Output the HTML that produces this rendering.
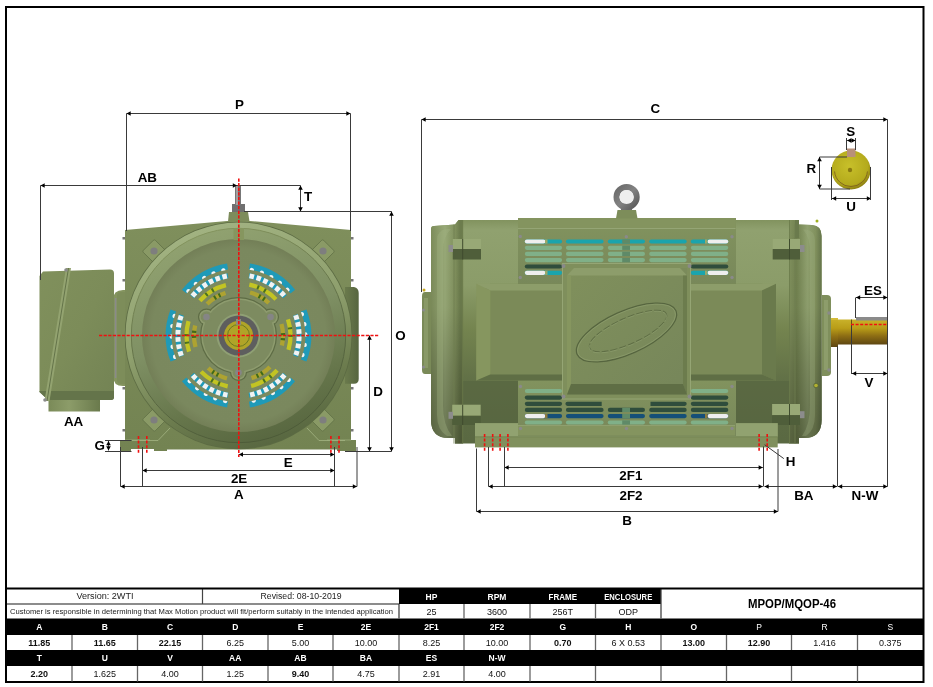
<!DOCTYPE html>
<html><head><meta charset="utf-8"><style>
html,body{margin:0;padding:0;background:#fff;width:933px;height:687px;overflow:hidden}
svg{display:block;font-family:"Liberation Sans", sans-serif}
</style></head><body>
<svg width="933" height="687" viewBox="0 0 933 687" style="will-change:transform">
<rect x="6" y="7" width="917.5" height="675" fill="none" stroke="#000" stroke-width="2"/>
<defs>
<linearGradient id="lhous" x1="0" y1="0" x2="0" y2="1">
 <stop offset="0" stop-color="#7f8f5c"/><stop offset="1" stop-color="#738352"/></linearGradient>
<linearGradient id="tbox" x1="0" y1="0" x2="1" y2="1">
 <stop offset="0" stop-color="#80905c"/><stop offset="0.5" stop-color="#7c8c59"/><stop offset="1" stop-color="#738354"/></linearGradient>
<linearGradient id="rbump" x1="0" y1="0" x2="1" y2="0">
 <stop offset="0" stop-color="#6a7a4c"/><stop offset="0.6" stop-color="#5f6e45"/><stop offset="1" stop-color="#56653f"/></linearGradient>
<linearGradient id="lineg" x1="200" y1="225" x2="275" y2="450" gradientUnits="userSpaceOnUse">
 <stop offset="0" stop-color="#86965f"/><stop offset="0.5" stop-color="#5f6e46"/><stop offset="1" stop-color="#4a5836"/></linearGradient>
<linearGradient id="hubg" x1="0" y1="0" x2="1" y2="0">
 <stop offset="0" stop-color="#7a8a58"/><stop offset="0.4" stop-color="#8c9c69"/><stop offset="1" stop-color="#6a7a4c"/></linearGradient>
<linearGradient id="rimg" x1="200" y1="225" x2="275" y2="450" gradientUnits="userSpaceOnUse">
 <stop offset="0" stop-color="#a2b382"/><stop offset="0.45" stop-color="#8e9f6d"/><stop offset="0.75" stop-color="#6c7c4e"/><stop offset="1" stop-color="#56653f"/></linearGradient>
<linearGradient id="slopeg" x1="200" y1="225" x2="275" y2="450" gradientUnits="userSpaceOnUse">
 <stop offset="0" stop-color="#92a371"/><stop offset="0.45" stop-color="#7f9064"/><stop offset="0.75" stop-color="#66764b"/><stop offset="1" stop-color="#55643e"/></linearGradient>
<radialGradient id="discg" cx="238.5" cy="335.5" r="96.5" gradientUnits="userSpaceOnUse">
 <stop offset="0" stop-color="#7c8a60"/><stop offset="0.9" stop-color="#7a885e"/><stop offset="1" stop-color="#737f57"/></radialGradient>
<linearGradient id="ringlin" x1="0" y1="0" x2="0" y2="1">
 <stop offset="0" stop-color="#9aab79"/><stop offset="0.5" stop-color="#8d9e6c"/><stop offset="1" stop-color="#76865a"/></linearGradient>
<linearGradient id="disc" x1="0" y1="0" x2="0" y2="1">
 <stop offset="0" stop-color="#7f8d62"/><stop offset="1" stop-color="#76845a"/></linearGradient>
<linearGradient id="shaftY" x1="0" y1="0" x2="0" y2="1">
 <stop offset="0" stop-color="#d2bc2a"/><stop offset="0.45" stop-color="#b8a018"/><stop offset="1" stop-color="#6e5212"/></linearGradient>
</defs>
<rect x="48.5" y="399" width="51.5" height="12.5" fill="url(#hubg)"/>
<path d="M113,300 Q113,290 123,290 L127,290 L127,386 L123,386 Q113,386 113,376 Z" fill="#84945f"/>
<rect x="114.8" y="298" width="1.6" height="80" fill="#8a8a8a"/>
<path d="M117,296 Q117,292 122,292 L127,292 L127,384 L122,384 Q117,384 117,380 Z" fill="#7d8d5a"/>
<path d="M39.5,276 L43,271.5 L110,269.5 Q114,269.5 114,273.5 L114,397 Q114,400 111,400 L48,400 L39.5,392 Z" fill="url(#tbox)"/>
<path d="M39.5,391 L114,391 L114,397 Q114,400 111,400 L48,400 L39.5,392 Z" fill="#64744a"/>
<path d="M66,268 L71,268 L49.5,401 L44.5,401 Z" fill="#93a370"/>
<line x1="68.5" y1="268" x2="47" y2="401" stroke="#5f6e45" stroke-width="0.9"/>
<circle cx="66" cy="270" r="1.8" fill="#8a8a8a"/><circle cx="45" cy="400" r="1.8" fill="#8a8a8a"/>
<path d="M125,230 L227,221 L250,221 L351,230 L351,440 L356,440 L356,451 L120,451 L120,440 L125,440 Z" fill="url(#lhous)"/>
<path d="M345,287 L354,287 Q358.7,288 358.7,293 L358.7,379 Q358.7,383.7 354,383.7 L345,383.7 Z" fill="url(#rbump)"/>
<rect x="351" y="237" width="2.5" height="2.5" fill="#777"/>
<rect x="122.5" y="237" width="2.5" height="2.5" fill="#777"/>
<rect x="351" y="279" width="2.5" height="2.5" fill="#777"/>
<rect x="122.5" y="279" width="2.5" height="2.5" fill="#777"/>
<rect x="351" y="387" width="2.5" height="2.5" fill="#777"/>
<rect x="122.5" y="387" width="2.5" height="2.5" fill="#777"/>
<rect x="351" y="429" width="2.5" height="2.5" fill="#777"/>
<rect x="122.5" y="429" width="2.5" height="2.5" fill="#777"/>
<rect x="131" y="449" width="23" height="3" fill="#fff"/>
<rect x="167" y="449.5" width="170" height="3" fill="#fff"/>
<line x1="125" y1="440" x2="150" y2="440" stroke="#9aab78" stroke-width="0.8"/>
<line x1="327" y1="440" x2="351" y2="440" stroke="#9aab78" stroke-width="0.8"/>
<path d="M228,221.5 L229,212 L248,212 L249.5,221.5 Z" fill="#7d8c5b"/>
<rect x="232" y="204" width="13" height="8" fill="#707070"/>
<rect x="235" y="186" width="6" height="19" fill="#777"/>
<rect x="236" y="186" width="2" height="19" fill="#a0a0a0"/>
<g transform="translate(154.35,251.35) rotate(225)"><rect x="-8.5" y="-8.5" width="17" height="17" rx="1.5" fill="#8a9a66" stroke="#5f6e45" stroke-width="0.7"/></g>
<circle cx="154.00" cy="251.00" r="3.6" fill="#7e7e7e"/>
<g transform="translate(322.65,251.35) rotate(315)"><rect x="-8.5" y="-8.5" width="17" height="17" rx="1.5" fill="#8a9a66" stroke="#5f6e45" stroke-width="0.7"/></g>
<circle cx="323.00" cy="251.00" r="3.6" fill="#7e7e7e"/>
<g transform="translate(154.35,419.65) rotate(135)"><rect x="-8.5" y="-8.5" width="17" height="17" rx="1.5" fill="#8a9a66" stroke="#5f6e45" stroke-width="0.7"/></g>
<circle cx="154.00" cy="420.00" r="3.6" fill="#7e7e7e"/>
<g transform="translate(322.65,419.65) rotate(45)"><rect x="-8.5" y="-8.5" width="17" height="17" rx="1.5" fill="#8a9a66" stroke="#5f6e45" stroke-width="0.7"/></g>
<circle cx="323.00" cy="420.00" r="3.6" fill="#7e7e7e"/>
<path d="M132,440.5 L158,440.5 L170,428" fill="none" stroke="#a3b483" stroke-width="0.8"/>
<path d="M345,440.5 L319,440.5 L307,428" fill="none" stroke="#a3b483" stroke-width="0.8"/>
<circle cx="238.5" cy="335.5" r="113.8" fill="#5c6b43"/>
<circle cx="238.5" cy="335.5" r="113" fill="url(#rimg)"/>
<circle cx="238.5" cy="335.5" r="107.2" fill="url(#slopeg)"/>
<circle cx="238.5" cy="335.5" r="107.2" fill="none" stroke="url(#lineg)" stroke-width="1"/>
<circle cx="238.5" cy="335.5" r="96.5" fill="url(#discg)"/>
<rect x="233.5" y="228" width="10.5" height="12" fill="#86965f"/>
<path d="M184.26,291.57 A69.8,69.8 0 0 1 227.58,266.56" fill="none" stroke="#1f9ab8" stroke-width="6"/>
<path d="M188.47,291.24 A66.8,66.8 0 0 1 228.05,269.52" fill="none" stroke="#f4f4f4" stroke-width="4.4" stroke-dasharray="0.01,10.3" stroke-linecap="round"/>
<path d="M187.36,295.54 A64.9,64.9 0 0 1 229.47,271.23" fill="none" stroke="#7b8a5f" stroke-width="3.6"/>
<path d="M192.08,296.55 A60.6,60.6 0 0 1 227.98,275.82" fill="none" stroke="#1f9ab8" stroke-width="5"/>
<path d="M192.42,296.14 A60.6,60.6 0 0 1 227.98,275.82" fill="none" stroke="#f2f2f2" stroke-width="5" stroke-dasharray="4.6,2.6"/>
<path d="M199.86,300.71 A52,52 0 0 1 225.92,285.04" fill="none" stroke="#c2c423" stroke-width="4.3"/>
<path d="M205.78,295.09 A52,52 0 0 1 217.35,288.00" fill="none" stroke="#4a7020" stroke-width="4.3" stroke-dasharray="2,5.5"/>
<path d="M207.03,304.03 A44.5,44.5 0 0 1 225.49,292.94" fill="none" stroke="#aea331" stroke-width="4.3"/>
<path d="M214.26,298.18 A44.5,44.5 0 0 1 221.11,294.54" fill="none" stroke="#3f6a1a" stroke-width="4.3" stroke-dasharray="2,3"/>
<path d="M249.42,266.56 A69.8,69.8 0 0 1 292.74,291.57" fill="none" stroke="#1f9ab8" stroke-width="6"/>
<path d="M251.82,270.04 A66.8,66.8 0 0 1 290.41,293.46" fill="none" stroke="#f4f4f4" stroke-width="4.4" stroke-dasharray="0.01,10.3" stroke-linecap="round"/>
<path d="M247.53,271.23 A64.9,64.9 0 0 1 289.64,295.54" fill="none" stroke="#7b8a5f" stroke-width="3.6"/>
<path d="M249.02,275.82 A60.6,60.6 0 0 1 284.92,296.55" fill="none" stroke="#1f9ab8" stroke-width="5"/>
<path d="M249.54,275.91 A60.6,60.6 0 0 1 284.92,296.55" fill="none" stroke="#f2f2f2" stroke-width="5" stroke-dasharray="4.6,2.6"/>
<path d="M249.31,284.64 A52,52 0 0 1 275.91,299.38" fill="none" stroke="#c2c423" stroke-width="4.3"/>
<path d="M257.14,286.95 A52,52 0 0 1 269.06,293.43" fill="none" stroke="#4a7020" stroke-width="4.3" stroke-dasharray="2,5.5"/>
<path d="M250.02,292.52 A44.5,44.5 0 0 1 268.85,302.95" fill="none" stroke="#aea331" stroke-width="4.3"/>
<path d="M258.70,295.85 A44.5,44.5 0 0 1 265.28,299.96" fill="none" stroke="#3f6a1a" stroke-width="4.3" stroke-dasharray="2,3"/>
<path d="M303.66,310.49 A69.8,69.8 0 0 1 303.66,360.51" fill="none" stroke="#1f9ab8" stroke-width="6"/>
<path d="M301.85,314.30 A66.8,66.8 0 0 1 300.86,359.44" fill="none" stroke="#f4f4f4" stroke-width="4.4" stroke-dasharray="0.01,10.3" stroke-linecap="round"/>
<path d="M298.67,311.19 A64.9,64.9 0 0 1 298.67,359.81" fill="none" stroke="#7b8a5f" stroke-width="3.6"/>
<path d="M295.45,314.77 A60.6,60.6 0 0 1 295.45,356.23" fill="none" stroke="#1f9ab8" stroke-width="5"/>
<path d="M295.62,315.27 A60.6,60.6 0 0 1 295.45,356.23" fill="none" stroke="#f2f2f2" stroke-width="5" stroke-dasharray="4.6,2.6"/>
<path d="M287.95,319.43 A52,52 0 0 1 288.49,349.83" fill="none" stroke="#c2c423" stroke-width="4.3"/>
<path d="M289.86,327.37 A52,52 0 0 1 290.22,340.94" fill="none" stroke="#4a7020" stroke-width="4.3" stroke-dasharray="2,5.5"/>
<path d="M281.48,323.98 A44.5,44.5 0 0 1 281.86,345.51" fill="none" stroke="#aea331" stroke-width="4.3"/>
<path d="M282.94,333.17 A44.5,44.5 0 0 1 282.67,340.92" fill="none" stroke="#3f6a1a" stroke-width="4.3" stroke-dasharray="2,3"/>
<path d="M292.74,379.43 A69.8,69.8 0 0 1 249.42,404.44" fill="none" stroke="#1f9ab8" stroke-width="6"/>
<path d="M288.53,379.76 A66.8,66.8 0 0 1 248.95,401.48" fill="none" stroke="#f4f4f4" stroke-width="4.4" stroke-dasharray="0.01,10.3" stroke-linecap="round"/>
<path d="M289.64,375.46 A64.9,64.9 0 0 1 247.53,399.77" fill="none" stroke="#7b8a5f" stroke-width="3.6"/>
<path d="M284.92,374.45 A60.6,60.6 0 0 1 249.02,395.18" fill="none" stroke="#1f9ab8" stroke-width="5"/>
<path d="M284.58,374.86 A60.6,60.6 0 0 1 249.02,395.18" fill="none" stroke="#f2f2f2" stroke-width="5" stroke-dasharray="4.6,2.6"/>
<path d="M277.14,370.29 A52,52 0 0 1 251.08,385.96" fill="none" stroke="#c2c423" stroke-width="4.3"/>
<path d="M271.22,375.91 A52,52 0 0 1 259.65,383.00" fill="none" stroke="#4a7020" stroke-width="4.3" stroke-dasharray="2,5.5"/>
<path d="M269.97,366.97 A44.5,44.5 0 0 1 251.51,378.06" fill="none" stroke="#aea331" stroke-width="4.3"/>
<path d="M262.74,372.82 A44.5,44.5 0 0 1 255.89,376.46" fill="none" stroke="#3f6a1a" stroke-width="4.3" stroke-dasharray="2,3"/>
<path d="M227.58,404.44 A69.8,69.8 0 0 1 184.26,379.43" fill="none" stroke="#1f9ab8" stroke-width="6"/>
<path d="M225.18,400.96 A66.8,66.8 0 0 1 186.59,377.54" fill="none" stroke="#f4f4f4" stroke-width="4.4" stroke-dasharray="0.01,10.3" stroke-linecap="round"/>
<path d="M229.47,399.77 A64.9,64.9 0 0 1 187.36,375.46" fill="none" stroke="#7b8a5f" stroke-width="3.6"/>
<path d="M227.98,395.18 A60.6,60.6 0 0 1 192.08,374.45" fill="none" stroke="#1f9ab8" stroke-width="5"/>
<path d="M227.46,395.09 A60.6,60.6 0 0 1 192.08,374.45" fill="none" stroke="#f2f2f2" stroke-width="5" stroke-dasharray="4.6,2.6"/>
<path d="M227.69,386.36 A52,52 0 0 1 201.09,371.62" fill="none" stroke="#c2c423" stroke-width="4.3"/>
<path d="M219.86,384.05 A52,52 0 0 1 207.94,377.57" fill="none" stroke="#4a7020" stroke-width="4.3" stroke-dasharray="2,5.5"/>
<path d="M226.98,378.48 A44.5,44.5 0 0 1 208.15,368.05" fill="none" stroke="#aea331" stroke-width="4.3"/>
<path d="M218.30,375.15 A44.5,44.5 0 0 1 211.72,371.04" fill="none" stroke="#3f6a1a" stroke-width="4.3" stroke-dasharray="2,3"/>
<path d="M173.34,360.51 A69.8,69.8 0 0 1 173.34,310.49" fill="none" stroke="#1f9ab8" stroke-width="6"/>
<path d="M175.15,356.70 A66.8,66.8 0 0 1 176.14,311.56" fill="none" stroke="#f4f4f4" stroke-width="4.4" stroke-dasharray="0.01,10.3" stroke-linecap="round"/>
<path d="M178.33,359.81 A64.9,64.9 0 0 1 178.33,311.19" fill="none" stroke="#7b8a5f" stroke-width="3.6"/>
<path d="M181.55,356.23 A60.6,60.6 0 0 1 181.55,314.77" fill="none" stroke="#1f9ab8" stroke-width="5"/>
<path d="M181.38,355.73 A60.6,60.6 0 0 1 181.55,314.77" fill="none" stroke="#f2f2f2" stroke-width="5" stroke-dasharray="4.6,2.6"/>
<path d="M189.05,351.57 A52,52 0 0 1 188.51,321.17" fill="none" stroke="#c2c423" stroke-width="4.3"/>
<path d="M187.14,343.63 A52,52 0 0 1 186.78,330.06" fill="none" stroke="#4a7020" stroke-width="4.3" stroke-dasharray="2,5.5"/>
<path d="M195.52,347.02 A44.5,44.5 0 0 1 195.14,325.49" fill="none" stroke="#aea331" stroke-width="4.3"/>
<path d="M194.06,337.83 A44.5,44.5 0 0 1 194.33,330.08" fill="none" stroke="#3f6a1a" stroke-width="4.3" stroke-dasharray="2,3"/>
<circle cx="238.5" cy="335.5" r="38.5" fill="#5e6c45"/>
<circle cx="206.46" cy="317.00" r="8.5" fill="#5e6c45"/>
<circle cx="270.54" cy="317.00" r="8.5" fill="#5e6c45"/>
<circle cx="238.50" cy="372.50" r="8.5" fill="#5e6c45"/>
<circle cx="238.5" cy="335.5" r="37.3" fill="#8d9b6e"/>
<circle cx="206.46" cy="317.00" r="7.3" fill="#8d9b6e"/>
<circle cx="270.54" cy="317.00" r="7.3" fill="#8d9b6e"/>
<circle cx="238.50" cy="372.50" r="7.3" fill="#8d9b6e"/>
<circle cx="238.5" cy="335.5" r="35.8" fill="#7d8b60"/>
<circle cx="206.46" cy="317.00" r="5.8" fill="#7d8b60"/>
<circle cx="270.54" cy="317.00" r="5.8" fill="#7d8b60"/>
<circle cx="238.50" cy="372.50" r="5.8" fill="#7d8b60"/>
<circle cx="206.46" cy="317.00" r="3.3" fill="#858585"/>
<circle cx="270.54" cy="317.00" r="3.3" fill="#858585"/>
<circle cx="238.50" cy="372.50" r="3.3" fill="#858585"/>
<circle cx="238.5" cy="335.5" r="22" fill="#8f9f74"/>
<circle cx="238.5" cy="335.5" r="20" fill="#5e5e5e"/>
<circle cx="238.5" cy="335.5" r="14.5" fill="#b0a428"/>
<circle cx="238.5" cy="335.5" r="11" fill="none" stroke="#6c7a22" stroke-width="1"/>
<rect x="236" y="319" width="5" height="6" fill="#8a8a7a"/>
<defs>
<linearGradient id="rbody" x1="0" y1="219" x2="0" y2="439" gradientUnits="userSpaceOnUse">
 <stop offset="0" stop-color="#80915d"/><stop offset="0.05" stop-color="#90a16f"/><stop offset="0.3" stop-color="#8b9c69"/><stop offset="0.5" stop-color="#74844f"/><stop offset="0.75" stop-color="#606f46"/><stop offset="1" stop-color="#5a6942"/></linearGradient>
<linearGradient id="rend" x1="430" y1="0" x2="460" y2="0" gradientUnits="userSpaceOnUse">
 <stop offset="0" stop-color="#7b8b59"/><stop offset="0.5" stop-color="#98a977"/><stop offset="0.85" stop-color="#7f8f5c"/><stop offset="1" stop-color="#6c7c4d"/></linearGradient>
<linearGradient id="rend2" x1="789.5" y1="0" x2="822" y2="0" gradientUnits="userSpaceOnUse">
 <stop offset="0" stop-color="#80905d"/><stop offset="0.22" stop-color="#728250"/><stop offset="0.55" stop-color="#90a16f"/><stop offset="0.8" stop-color="#82925e"/><stop offset="1" stop-color="#64744a"/></linearGradient>
<linearGradient id="endv" x1="0" y1="219" x2="0" y2="439" gradientUnits="userSpaceOnUse">
 <stop offset="0" stop-color="#000" stop-opacity="0"/><stop offset="0.4" stop-color="#000" stop-opacity="0.03"/><stop offset="0.7" stop-color="#000" stop-opacity="0.18"/><stop offset="1" stop-color="#000" stop-opacity="0.3"/></linearGradient>
<linearGradient id="panel" x1="0" y1="0" x2="0" y2="1">
 <stop offset="0" stop-color="#82935e"/><stop offset="1" stop-color="#78885a"/></linearGradient>
<linearGradient id="sidep" x1="0" y1="0" x2="0" y2="1">
 <stop offset="0" stop-color="#7f8f5b"/><stop offset="1" stop-color="#748455"/></linearGradient>
<linearGradient id="tbface" x1="0" y1="0" x2="1" y2="1">
 <stop offset="0" stop-color="#80905c"/><stop offset="1" stop-color="#76865a"/></linearGradient>
<linearGradient id="shaft" x1="0" y1="0" x2="0" y2="1">
 <stop offset="0" stop-color="#c9b22a"/><stop offset="0.35" stop-color="#b99d18"/><stop offset="0.65" stop-color="#8e6e14"/><stop offset="1" stop-color="#5e4612"/></linearGradient>
<linearGradient id="ringg" x1="0" y1="0" x2="1" y2="1">
 <stop offset="0" stop-color="#6a6a6a"/><stop offset="0.5" stop-color="#828282"/><stop offset="1" stop-color="#5a5a5a"/></linearGradient>
<radialGradient id="shend" cx="0.45" cy="0.4" r="0.6">
 <stop offset="0" stop-color="#c8c02a"/><stop offset="0.8" stop-color="#b4aa1c"/><stop offset="1" stop-color="#8e8012"/></radialGradient>
</defs>
<path d="M431,292 L425,292 Q422,292 422,296 L422,370 Q422,374 425,374 L431,374 Z" fill="#7a8a58"/>
<rect x="424" y="298" width="4" height="70" fill="#90a06e" opacity="0.7"/>
<circle cx="423.5" cy="310" r="1.6" fill="#8a8a8a"/><circle cx="423.5" cy="367" r="1.6" fill="#8a8a8a"/>
<path d="M822,295 L827,295 Q831,295 831,299 L831,372 Q831,376 827,376 L822,376 Z" fill="#7f8f5c"/>
<rect x="824" y="300" width="4" height="70" fill="#93a372" opacity="0.7"/>
<circle cx="829" cy="313" r="1.8" fill="#8a8a8a"/><circle cx="829" cy="370" r="1.8" fill="#8a8a8a"/>
<path d="M434,226 L455,224.5 L458.5,220 L794.5,220 L798.7,224.5 L812,225 Q821.6,225.5 821.6,236 L821.6,420 Q821.6,438 804,438 L799,438 L799,443.6 L455,443.6 L455,438 L449,438 Q431,438 431,420 L431,229 Q431,226 434,226 Z" fill="url(#rbody)"/>
<path d="M434,226 L455,224.5 L458.5,220 L462.7,220 L462.7,443.6 L455,443.6 L455,438 L449,438 Q431,438 431,420 L431,229 Q431,226 434,226 Z" fill="url(#rend)"/>
<path d="M789.5,220 L794.5,220 L798.7,224.5 L812,225 Q821.6,225.5 821.6,236 L821.6,420 Q821.6,438 804,438 L799,438 L799,443.6 L789.5,443.6 Z" fill="url(#rend2)"/>
<path d="M434,226 L455,224.5 L458.5,220 L462.7,220 L462.7,443.6 L455,443.6 L455,438 L449,438 Q431,438 431,420 L431,229 Q431,226 434,226 Z M789.5,220 L794.5,220 L798.7,224.5 L812,225 Q821.6,225.5 821.6,236 L821.6,420 Q821.6,438 804,438 L799,438 L799,443.6 L789.5,443.6 Z" fill="url(#endv)"/>
<path d="M437,240 Q437,230 447,229 L451,229 Q443,236 443,252 L443,405 Q443,425 452,436 L447,436 Q437,430 437,415 Z" fill="#a3b483" opacity="0.35"/>
<path d="M815,240 Q815,231 806,229.5 L803,229.5 Q810,237 810,252 L810,405 Q810,425 802,436 L806,436 Q815,430 815,415 Z" fill="#a3b483" opacity="0.3"/>
<rect x="462.7" y="381" width="326.8" height="44" fill="#56653f" opacity="0.55"/>
<line x1="454" y1="224.5" x2="454" y2="443.6" stroke="#6f7f50" stroke-width="0.8"/>
<line x1="462.7" y1="220" x2="462.7" y2="443.6" stroke="#6a7a4a" stroke-width="0.8"/>
<line x1="789.5" y1="220" x2="789.5" y2="443.6" stroke="#6a7a4a" stroke-width="0.8"/>
<rect x="795" y="220" width="4" height="18" fill="#6a7a4c"/>
<line x1="795" y1="224" x2="795" y2="443.6" stroke="#6f7f50" stroke-width="0.8"/>
<rect x="452.8" y="239" width="28.20" height="10.00" fill="#98a976"/>
<rect x="452.8" y="249" width="28.20" height="10.50" fill="#4f5e3a"/>
<line x1="462.7" y1="239" x2="462.7" y2="259.5" stroke="#3f4c2e" stroke-width="1"/>
<rect x="448.5" y="245" width="4.5" height="7" fill="#8c8c8c"/>
<rect x="452.2" y="404.7" width="28.50" height="11.10" fill="#98a976"/>
<rect x="452.2" y="415.8" width="28.50" height="9.20" fill="#4f5e3a"/>
<line x1="462.7" y1="404.7" x2="462.7" y2="425" stroke="#3f4c2e" stroke-width="1"/>
<rect x="448.5" y="411.8" width="4.5" height="7" fill="#8c8c8c"/>
<rect x="772.7" y="239" width="27.30" height="10.00" fill="#98a976"/>
<rect x="772.7" y="249" width="27.30" height="10.50" fill="#4f5e3a"/>
<line x1="789.5" y1="239" x2="789.5" y2="259.5" stroke="#3f4c2e" stroke-width="1"/>
<rect x="800" y="245" width="4.5" height="7" fill="#8c8c8c"/>
<rect x="772.1" y="404" width="27.90" height="11.20" fill="#98a976"/>
<rect x="772.1" y="415.2" width="27.90" height="9.80" fill="#4f5e3a"/>
<line x1="789.5" y1="404" x2="789.5" y2="425" stroke="#3f4c2e" stroke-width="1"/>
<rect x="800" y="411.2" width="4.5" height="7" fill="#8c8c8c"/>
<rect x="475" y="423.2" width="302.7" height="24.2" fill="#80905d"/>
<rect x="475" y="423.2" width="302.7" height="13.6" fill="#91a270"/>
<line x1="475" y1="436.8" x2="777.7" y2="436.8" stroke="#70804f" stroke-width="0.8"/>
<rect x="518" y="218" width="218" height="66" fill="url(#panel)"/>
<rect x="518" y="218" width="217.5" height="10.5" fill="#84945f"/>
<line x1="518" y1="228.5" x2="735.5" y2="228.5" stroke="#95a575" stroke-width="1"/>
<line x1="518" y1="284" x2="736" y2="284" stroke="#6a7a4a" stroke-width="1"/>
<rect x="524.80" y="239.40" width="37.30" height="4.2" rx="2.1" fill="#1aa4ad"/>
<rect x="524.80" y="245.70" width="37.30" height="4.2" rx="2.1" fill="#80b088"/>
<rect x="524.80" y="251.80" width="37.30" height="4.2" rx="2.1" fill="#80b088"/>
<rect x="524.80" y="258.00" width="37.30" height="4.2" rx="2.1" fill="#80b088"/>
<rect x="524.80" y="264.40" width="37.30" height="4.2" rx="2.1" fill="#2f4d3c"/>
<rect x="524.80" y="270.70" width="37.30" height="4.2" rx="2.1" fill="#1aa4ad"/>
<rect x="565.90" y="239.40" width="37.70" height="4.2" rx="2.1" fill="#1aa4ad"/>
<rect x="565.90" y="245.70" width="37.70" height="4.2" rx="2.1" fill="#80b088"/>
<rect x="565.90" y="251.80" width="37.70" height="4.2" rx="2.1" fill="#80b088"/>
<rect x="565.90" y="258.00" width="37.70" height="4.2" rx="2.1" fill="#80b088"/>
<rect x="607.80" y="239.40" width="37.20" height="4.2" rx="2.1" fill="#1aa4ad"/>
<rect x="607.80" y="245.70" width="37.20" height="4.2" rx="2.1" fill="#80b088"/>
<rect x="607.80" y="251.80" width="37.20" height="4.2" rx="2.1" fill="#80b088"/>
<rect x="607.80" y="258.00" width="37.20" height="4.2" rx="2.1" fill="#80b088"/>
<rect x="649.20" y="239.40" width="37.50" height="4.2" rx="2.1" fill="#1aa4ad"/>
<rect x="649.20" y="245.70" width="37.50" height="4.2" rx="2.1" fill="#80b088"/>
<rect x="649.20" y="251.80" width="37.50" height="4.2" rx="2.1" fill="#80b088"/>
<rect x="649.20" y="258.00" width="37.50" height="4.2" rx="2.1" fill="#80b088"/>
<rect x="690.80" y="239.40" width="37.50" height="4.2" rx="2.1" fill="#1aa4ad"/>
<rect x="690.80" y="245.70" width="37.50" height="4.2" rx="2.1" fill="#80b088"/>
<rect x="690.80" y="251.80" width="37.50" height="4.2" rx="2.1" fill="#80b088"/>
<rect x="690.80" y="258.00" width="37.50" height="4.2" rx="2.1" fill="#80b088"/>
<rect x="690.80" y="264.40" width="37.50" height="4.2" rx="2.1" fill="#2f4d3c"/>
<rect x="690.80" y="270.70" width="37.50" height="4.2" rx="2.1" fill="#1aa4ad"/>
<rect x="524.80" y="239.40" width="20.70" height="4.2" rx="2.1" fill="#eeeeee"/>
<rect x="545" y="239.4" width="2.5" height="4.2" fill="#9aa86a"/>
<rect x="707.50" y="239.40" width="20.80" height="4.2" rx="2.1" fill="#eeeeee"/>
<rect x="705" y="239.4" width="2.5" height="4.2" fill="#9aa86a"/>
<rect x="524.80" y="270.70" width="20.70" height="4.2" rx="2.1" fill="#eeeeee"/>
<rect x="545" y="270.7" width="2.5" height="4.2" fill="#9aa86a"/>
<rect x="707.50" y="270.70" width="20.80" height="4.2" rx="2.1" fill="#eeeeee"/>
<rect x="705" y="270.7" width="2.5" height="4.2" fill="#9aa86a"/>
<rect x="622.2" y="239.4" width="7.8" height="4.2" fill="#5f8a68"/>
<rect x="622.2" y="245.70000000000002" width="7.8" height="4.2" fill="#5f8a68"/>
<rect x="622.2" y="251.8" width="7.8" height="4.2" fill="#5f8a68"/>
<rect x="622.2" y="258.0" width="7.8" height="4.2" fill="#5f8a68"/>
<rect x="518" y="378" width="218" height="58" fill="url(#panel)"/>
<line x1="518" y1="378.5" x2="736" y2="378.5" stroke="#93a370" stroke-width="1"/>
<rect x="518" y="425.5" width="217" height="10" fill="#84945f"/>
<line x1="518" y1="425.5" x2="735" y2="425.5" stroke="#93a372" stroke-width="0.8"/>
<rect x="524.80" y="388.90" width="37.30" height="4.2" rx="2.1" fill="#80b088"/>
<rect x="524.80" y="395.50" width="37.30" height="4.2" rx="2.1" fill="#2f4d3c"/>
<rect x="524.80" y="401.70" width="37.30" height="4.2" rx="2.1" fill="#2f4d3c"/>
<rect x="524.80" y="407.80" width="37.30" height="4.2" rx="2.1" fill="#2f4d3c"/>
<rect x="524.80" y="414.00" width="37.30" height="4.2" rx="2.1" fill="#154f78"/>
<rect x="524.80" y="420.40" width="37.30" height="4.2" rx="2.1" fill="#80b088"/>
<rect x="565.90" y="407.80" width="37.70" height="4.2" rx="2.1" fill="#2f4d3c"/>
<rect x="565.90" y="414.00" width="37.70" height="4.2" rx="2.1" fill="#154f78"/>
<rect x="565.90" y="420.40" width="37.70" height="4.2" rx="2.1" fill="#80b088"/>
<rect x="607.80" y="407.80" width="37.20" height="4.2" rx="2.1" fill="#2f4d3c"/>
<rect x="607.80" y="414.00" width="37.20" height="4.2" rx="2.1" fill="#154f78"/>
<rect x="607.80" y="420.40" width="37.20" height="4.2" rx="2.1" fill="#80b088"/>
<rect x="649.20" y="407.80" width="37.50" height="4.2" rx="2.1" fill="#2f4d3c"/>
<rect x="649.20" y="414.00" width="37.50" height="4.2" rx="2.1" fill="#154f78"/>
<rect x="649.20" y="420.40" width="37.50" height="4.2" rx="2.1" fill="#80b088"/>
<rect x="690.80" y="388.90" width="37.50" height="4.2" rx="2.1" fill="#80b088"/>
<rect x="690.80" y="395.50" width="37.50" height="4.2" rx="2.1" fill="#2f4d3c"/>
<rect x="690.80" y="401.70" width="37.50" height="4.2" rx="2.1" fill="#2f4d3c"/>
<rect x="690.80" y="407.80" width="37.50" height="4.2" rx="2.1" fill="#2f4d3c"/>
<rect x="690.80" y="414.00" width="37.50" height="4.2" rx="2.1" fill="#154f78"/>
<rect x="690.80" y="420.40" width="37.50" height="4.2" rx="2.1" fill="#80b088"/>
<path d="M567.5,401.7 L601.7,401.7 L601.7,405.90000000000003 L567.5,405.90000000000003 A2.1,2.1 0 0 1 567.5,401.7 Z" fill="#2f4d3c"/>
<path d="M650.5,401.7 L684.6,401.7 A2.1,2.1 0 0 1 684.6,405.90000000000003 L650.5,405.90000000000003 Z" fill="#2f4d3c"/>
<rect x="524.80" y="414.00" width="20.70" height="4.2" rx="2.1" fill="#eeeeee"/>
<rect x="707.50" y="414.00" width="20.80" height="4.2" rx="2.1" fill="#eeeeee"/>
<rect x="545" y="414.0" width="2.5" height="4.2" fill="#8a7a40"/><rect x="705" y="414.0" width="2.5" height="4.2" fill="#8a7a40"/>
<rect x="622.2" y="407.79999999999995" width="7.8" height="4.2" fill="#5f8a68"/>
<rect x="622.2" y="414.0" width="7.8" height="4.2" fill="#5f8a68"/>
<rect x="622.2" y="420.4" width="7.8" height="4.2" fill="#5f8a68"/>
<circle cx="520.3" cy="236.5" r="1.7" fill="#8a8a8a"/>
<circle cx="626.3" cy="236.7" r="1.7" fill="#8a8a8a"/>
<circle cx="732" cy="236.7" r="1.7" fill="#8a8a8a"/>
<circle cx="520.3" cy="277.5" r="1.7" fill="#8a8a8a"/>
<circle cx="732" cy="277.5" r="1.7" fill="#8a8a8a"/>
<circle cx="520.5" cy="386.5" r="1.7" fill="#8a8a8a"/>
<circle cx="732" cy="386.5" r="1.7" fill="#8a8a8a"/>
<circle cx="520.5" cy="428.5" r="1.7" fill="#8a8a8a"/>
<circle cx="626.5" cy="428.5" r="1.7" fill="#8a8a8a"/>
<circle cx="732" cy="428.5" r="1.7" fill="#8a8a8a"/>
<path d="M476.3,297 L490.3,283.7 L762,283.7 L776,297 L776,380.6 L476.3,380.6 Z" fill="#7b8a58"/>
<path d="M476.3,283.7 L776,283.7 L762,290.4 L490.3,290.4 Z" fill="#8d9d6a"/>
<path d="M476.3,283.7 L490.3,290.4 L490.3,374.5 L476.3,380.6 Z" fill="#86965f"/>
<path d="M776,283.7 L762,290.4 L762,374.5 L776,380.6 Z" fill="#6a7a4c"/>
<path d="M476.3,380.6 L490.3,374.5 L762,374.5 L776,380.6 Z" fill="#5f6e45"/>
<rect x="562.5" y="263.5" width="128" height="135.5" fill="#7f8f5c" stroke="#95a574" stroke-width="1"/>
<rect x="567" y="268" width="120" height="126.5" fill="url(#tbface)"/>
<path d="M567,275.5 L574,268 L680,268 L687,275.5 Z" fill="#8d9d6b"/>
<path d="M567,275.5 L571,275.5 L571,384 L567,394.5 Z" fill="#86965f"/>
<path d="M687,275.5 L683,275.5 L683,384 L687,394.5 Z" fill="#6c7c4d"/>
<path d="M567,394.5 L571,384 L683,384 L687,394.5 Z" fill="#5f6e45"/>
<circle cx="563.5" cy="266" r="2" fill="#8a8a8a"/>
<circle cx="689.5" cy="266" r="2" fill="#8a8a8a"/>
<circle cx="563.5" cy="396.5" r="2" fill="#8a8a8a"/>
<circle cx="689.5" cy="396.5" r="2" fill="#8a8a8a"/>
<ellipse cx="626.5" cy="332.5" rx="54" ry="21.5" transform="rotate(-24 626.5 332.5)" fill="none" stroke="#56653f" stroke-width="1.2"/>
<ellipse cx="626.5" cy="332.5" rx="52.8" ry="20.3" transform="rotate(-24 626.5 332.5)" fill="none" stroke="#90a070" stroke-width="0.7" opacity="0.8"/>
<ellipse cx="628" cy="331" rx="42" ry="13" transform="rotate(-24 628 331)" fill="none" stroke="#5f6e45" stroke-width="1.1" stroke-dasharray="7,2"/>
<ellipse cx="628" cy="332" rx="42" ry="13" transform="rotate(-24 628 332)" fill="none" stroke="#93a373" stroke-width="0.7" stroke-dasharray="7,2" opacity="0.7"/>
<rect x="831" y="318" width="7" height="29" fill="url(#shaft)"/>
<rect x="831" y="318" width="7" height="2" fill="#d8c040" opacity="0.7"/>
<rect x="838" y="319.5" width="49.5" height="25" fill="url(#shaft)"/>
<rect x="856" y="317" width="31.5" height="3.5" fill="#8a8a8a"/>
<line x1="851.5" y1="319.5" x2="851.5" y2="344.5" stroke="#4a3a10" stroke-width="0.8"/>
<path d="M616,218.5 L617.5,210 L636,210 L637.5,218.5 Z" fill="#7d8d5a"/>
<path d="M620,203 L633,203 L632,210 L621,210 Z" fill="#6e6e6e"/>
<circle cx="626.6" cy="197" r="10.1" fill="none" stroke="url(#ringg)" stroke-width="6"/>
<circle cx="626.6" cy="197" r="7.1" fill="#eeeeee"/>
<circle cx="424" cy="290" r="1.5" fill="#c8a820"/>
<circle cx="816" cy="385.5" r="2.3" fill="#b0b030" stroke="#4f5e3a" stroke-width="0.8"/>
<circle cx="817" cy="221" r="1.5" fill="#a0b020"/>
<circle cx="851" cy="170" r="19.5" fill="url(#shend)"/>
<path d="M867.44,171.44 A16.5,16.5 0 0 1 834.56,171.44" fill="none" stroke="#7a5a20" stroke-width="0.8"/>
<circle cx="850" cy="170" r="2.2" fill="#8a7a10"/>
<rect x="847" y="148.5" width="8.5" height="8.5" fill="#b8907a"/>
<rect x="399" y="588" width="262" height="16" fill="#000"/>
<rect x="6" y="618.5" width="917" height="16.5" fill="#000"/>
<rect x="6" y="650" width="917" height="16" fill="#000"/>
<line x1="7" y1="604" x2="399" y2="604" stroke="#666" stroke-width="1.5"/>
<line x1="202.5" y1="589" x2="202.5" y2="604" stroke="#444" stroke-width="1.2"/>
<line x1="464" y1="604" x2="464" y2="618.5" stroke="#666" stroke-width="1.3"/>
<line x1="530" y1="604" x2="530" y2="618.5" stroke="#666" stroke-width="1.3"/>
<line x1="595.5" y1="604" x2="595.5" y2="618.5" stroke="#666" stroke-width="1.3"/>
<line x1="399" y1="604" x2="399" y2="618.5" stroke="#444" stroke-width="1.3"/>
<line x1="661" y1="589" x2="661" y2="618.5" stroke="#444" stroke-width="1.3"/>
<line x1="72" y1="635" x2="72" y2="650" stroke="#666" stroke-width="1.3"/>
<line x1="72" y1="666" x2="72" y2="681.5" stroke="#666" stroke-width="1.3"/>
<line x1="137.5" y1="635" x2="137.5" y2="650" stroke="#666" stroke-width="1.3"/>
<line x1="137.5" y1="666" x2="137.5" y2="681.5" stroke="#666" stroke-width="1.3"/>
<line x1="202.5" y1="635" x2="202.5" y2="650" stroke="#666" stroke-width="1.3"/>
<line x1="202.5" y1="666" x2="202.5" y2="681.5" stroke="#666" stroke-width="1.3"/>
<line x1="268" y1="635" x2="268" y2="650" stroke="#666" stroke-width="1.3"/>
<line x1="268" y1="666" x2="268" y2="681.5" stroke="#666" stroke-width="1.3"/>
<line x1="333" y1="635" x2="333" y2="650" stroke="#666" stroke-width="1.3"/>
<line x1="333" y1="666" x2="333" y2="681.5" stroke="#666" stroke-width="1.3"/>
<line x1="399" y1="635" x2="399" y2="650" stroke="#666" stroke-width="1.3"/>
<line x1="399" y1="666" x2="399" y2="681.5" stroke="#666" stroke-width="1.3"/>
<line x1="464" y1="635" x2="464" y2="650" stroke="#666" stroke-width="1.3"/>
<line x1="464" y1="666" x2="464" y2="681.5" stroke="#666" stroke-width="1.3"/>
<line x1="530" y1="635" x2="530" y2="650" stroke="#666" stroke-width="1.3"/>
<line x1="530" y1="666" x2="530" y2="681.5" stroke="#666" stroke-width="1.3"/>
<line x1="595.5" y1="635" x2="595.5" y2="650" stroke="#666" stroke-width="1.3"/>
<line x1="595.5" y1="666" x2="595.5" y2="681.5" stroke="#666" stroke-width="1.3"/>
<line x1="661" y1="635" x2="661" y2="650" stroke="#666" stroke-width="1.3"/>
<line x1="661" y1="666" x2="661" y2="681.5" stroke="#666" stroke-width="1.3"/>
<line x1="726.5" y1="635" x2="726.5" y2="650" stroke="#666" stroke-width="1.3"/>
<line x1="726.5" y1="666" x2="726.5" y2="681.5" stroke="#666" stroke-width="1.3"/>
<line x1="791.5" y1="635" x2="791.5" y2="650" stroke="#666" stroke-width="1.3"/>
<line x1="791.5" y1="666" x2="791.5" y2="681.5" stroke="#666" stroke-width="1.3"/>
<line x1="857.5" y1="635" x2="857.5" y2="650" stroke="#666" stroke-width="1.3"/>
<line x1="857.5" y1="666" x2="857.5" y2="681.5" stroke="#666" stroke-width="1.3"/>
<line x1="6" y1="588.5" x2="923" y2="588.5" stroke="#000" stroke-width="2"/>
<text x="105" y="598.9" font-size="9.6" fill="#222" text-anchor="middle" textLength="57" lengthAdjust="spacingAndGlyphs">Version: 2WTI</text>
<text x="301" y="598.9" font-size="9.6" fill="#222" text-anchor="middle" textLength="81" lengthAdjust="spacingAndGlyphs">Revised: 08-10-2019</text>
<text x="201.5" y="614" font-size="8" fill="#222" text-anchor="middle" textLength="383" lengthAdjust="spacingAndGlyphs">Customer is responsible in determining that Max Motion product will fit/perform suitably in the intended application</text>
<text x="431.5" y="599.5" font-size="8.5" font-weight="bold" fill="#fff" text-anchor="middle">HP</text>
<text x="497.0" y="599.5" font-size="8.5" font-weight="bold" fill="#fff" text-anchor="middle">RPM</text>
<text x="562.75" y="599.5" font-size="8.5" font-weight="bold" fill="#fff" text-anchor="middle" textLength="28.5" lengthAdjust="spacingAndGlyphs">FRAME</text>
<text x="628.25" y="599.5" font-size="8.5" font-weight="bold" fill="#fff" text-anchor="middle" textLength="48" lengthAdjust="spacingAndGlyphs">ENCLOSURE</text>
<text x="431.5" y="614.5" font-size="9" fill="#111" text-anchor="middle">25</text>
<text x="497.0" y="614.5" font-size="9" fill="#111" text-anchor="middle">3600</text>
<text x="562.75" y="614.5" font-size="9" fill="#111" text-anchor="middle">256T</text>
<text x="628.25" y="614.5" font-size="9" fill="#111" text-anchor="middle">ODP</text>
<text x="792" y="607.7" font-size="12" font-weight="bold" fill="#000" text-anchor="middle" textLength="88" lengthAdjust="spacingAndGlyphs">MPOP/MQOP-46</text>
<text x="39.25" y="630" font-size="8.5" font-weight="bold" fill="#fff" text-anchor="middle">A</text>
<text x="104.75" y="630" font-size="8.5" font-weight="bold" fill="#fff" text-anchor="middle">B</text>
<text x="170.0" y="630" font-size="8.5" font-weight="bold" fill="#fff" text-anchor="middle">C</text>
<text x="235.25" y="630" font-size="8.5" font-weight="bold" fill="#fff" text-anchor="middle">D</text>
<text x="300.5" y="630" font-size="8.5" font-weight="bold" fill="#fff" text-anchor="middle">E</text>
<text x="366.0" y="630" font-size="8.5" font-weight="bold" fill="#fff" text-anchor="middle">2E</text>
<text x="431.5" y="630" font-size="8.5" font-weight="bold" fill="#fff" text-anchor="middle">2F1</text>
<text x="497.0" y="630" font-size="8.5" font-weight="bold" fill="#fff" text-anchor="middle">2F2</text>
<text x="562.75" y="630" font-size="8.5" font-weight="bold" fill="#fff" text-anchor="middle">G</text>
<text x="628.25" y="630" font-size="8.5" font-weight="bold" fill="#fff" text-anchor="middle">H</text>
<text x="693.75" y="630" font-size="8.5" font-weight="bold" fill="#fff" text-anchor="middle">O</text>
<text x="759.0" y="630" font-size="8.5" fill="#fff" text-anchor="middle">P</text>
<text x="824.5" y="630" font-size="8.5" fill="#fff" text-anchor="middle">R</text>
<text x="890.25" y="630" font-size="8.5" fill="#fff" text-anchor="middle">S</text>
<text x="39.25" y="646" font-size="9" font-weight="bold" fill="#111" text-anchor="middle">11.85</text>
<text x="104.75" y="646" font-size="9" font-weight="bold" fill="#111" text-anchor="middle">11.65</text>
<text x="170.0" y="646" font-size="9" font-weight="bold" fill="#111" text-anchor="middle">22.15</text>
<text x="235.25" y="646" font-size="9" fill="#111" text-anchor="middle">6.25</text>
<text x="300.5" y="646" font-size="9" fill="#111" text-anchor="middle">5.00</text>
<text x="366.0" y="646" font-size="9" fill="#111" text-anchor="middle">10.00</text>
<text x="431.5" y="646" font-size="9" fill="#111" text-anchor="middle">8.25</text>
<text x="497.0" y="646" font-size="9" fill="#111" text-anchor="middle">10.00</text>
<text x="562.75" y="646" font-size="9" font-weight="bold" fill="#111" text-anchor="middle">0.70</text>
<text x="628.25" y="646" font-size="9" fill="#111" text-anchor="middle">6 X 0.53</text>
<text x="693.75" y="646" font-size="9" font-weight="bold" fill="#111" text-anchor="middle">13.00</text>
<text x="759.0" y="646" font-size="9" font-weight="bold" fill="#111" text-anchor="middle">12.90</text>
<text x="824.5" y="646" font-size="9" fill="#111" text-anchor="middle">1.416</text>
<text x="890.25" y="646" font-size="9" fill="#111" text-anchor="middle">0.375</text>
<text x="39.25" y="661" font-size="8.5" font-weight="bold" fill="#fff" text-anchor="middle">T</text>
<text x="104.75" y="661" font-size="8.5" font-weight="bold" fill="#fff" text-anchor="middle">U</text>
<text x="170.0" y="661" font-size="8.5" font-weight="bold" fill="#fff" text-anchor="middle">V</text>
<text x="235.25" y="661" font-size="8.5" font-weight="bold" fill="#fff" text-anchor="middle">AA</text>
<text x="300.5" y="661" font-size="8.5" font-weight="bold" fill="#fff" text-anchor="middle">AB</text>
<text x="366.0" y="661" font-size="8.5" font-weight="bold" fill="#fff" text-anchor="middle">BA</text>
<text x="431.5" y="661" font-size="8.5" font-weight="bold" fill="#fff" text-anchor="middle">ES</text>
<text x="497.0" y="661" font-size="8.5" font-weight="bold" fill="#fff" text-anchor="middle">N-W</text>
<text x="39.25" y="677" font-size="9" font-weight="bold" fill="#111" text-anchor="middle">2.20</text>
<text x="104.75" y="677" font-size="9" fill="#111" text-anchor="middle">1.625</text>
<text x="170.0" y="677" font-size="9" fill="#111" text-anchor="middle">4.00</text>
<text x="235.25" y="677" font-size="9" fill="#111" text-anchor="middle">1.25</text>
<text x="300.5" y="677" font-size="9" font-weight="bold" fill="#111" text-anchor="middle">9.40</text>
<text x="366.0" y="677" font-size="9" fill="#111" text-anchor="middle">4.75</text>
<text x="431.5" y="677" font-size="9" fill="#111" text-anchor="middle">2.91</text>
<text x="497.0" y="677" font-size="9" fill="#111" text-anchor="middle">4.00</text>
<line x1="126.5" y1="113.5" x2="350.5" y2="113.5" stroke="#3a3a3a" stroke-width="1"/><path d="M126.50,113.50 L130.70,111.20 L130.70,115.80 Z" fill="#000"/><path d="M350.50,113.50 L346.30,115.80 L346.30,111.20 Z" fill="#000"/>
<line x1="126.5" y1="113.5" x2="126.5" y2="231" stroke="#3a3a3a" stroke-width="1"/>
<line x1="350.5" y1="113.5" x2="350.5" y2="231" stroke="#3a3a3a" stroke-width="1"/>
<text x="239.4" y="109.35" font-size="13.4" font-weight="bold" fill="#000" text-anchor="middle">P</text>
<line x1="421.5" y1="119.5" x2="887.5" y2="119.5" stroke="#3a3a3a" stroke-width="1"/><path d="M421.50,119.50 L425.70,117.20 L425.70,121.80 Z" fill="#000"/><path d="M887.50,119.50 L883.30,121.80 L883.30,117.20 Z" fill="#000"/>
<line x1="421.5" y1="119.5" x2="421.5" y2="292" stroke="#3a3a3a" stroke-width="1"/>
<line x1="887.5" y1="119.5" x2="887.5" y2="486.5" stroke="#3a3a3a" stroke-width="1"/>
<text x="655.4" y="113.45" font-size="13.4" font-weight="bold" fill="#000" text-anchor="middle">C</text>
<line x1="40.5" y1="185.5" x2="237" y2="185.5" stroke="#3a3a3a" stroke-width="1"/><path d="M40.50,185.50 L44.70,183.20 L44.70,187.80 Z" fill="#000"/><path d="M237.00,185.50 L232.80,187.80 L232.80,183.20 Z" fill="#000"/>
<line x1="40.5" y1="185.5" x2="40.5" y2="280" stroke="#3a3a3a" stroke-width="1"/>
<line x1="237" y1="185.5" x2="300.5" y2="185.5" stroke="#3a3a3a" stroke-width="1"/>
<text x="147.3" y="181.65" font-size="13.4" font-weight="bold" fill="#000" text-anchor="middle">AB</text>
<line x1="300.5" y1="185.5" x2="300.5" y2="211.5" stroke="#3a3a3a" stroke-width="1"/><path d="M300.50,185.50 L302.80,189.70 L298.20,189.70 Z" fill="#000"/><path d="M300.50,211.50 L298.20,207.30 L302.80,207.30 Z" fill="#000"/>
<text x="308" y="201.15" font-size="13.4" font-weight="bold" fill="#000" text-anchor="middle">T</text>
<line x1="244" y1="211.5" x2="391.5" y2="211.5" stroke="#3a3a3a" stroke-width="1"/>
<line x1="391.5" y1="211.5" x2="391.5" y2="451.5" stroke="#3a3a3a" stroke-width="1"/><path d="M391.50,211.50 L393.80,215.70 L389.20,215.70 Z" fill="#000"/><path d="M391.50,451.50 L389.20,447.30 L393.80,447.30 Z" fill="#000"/>
<text x="400.4" y="340.35" font-size="13.4" font-weight="bold" fill="#000" text-anchor="middle">O</text>
<line x1="369.5" y1="335.5" x2="369.5" y2="451.5" stroke="#3a3a3a" stroke-width="1"/><path d="M369.50,335.50 L371.80,339.70 L367.20,339.70 Z" fill="#000"/><path d="M369.50,451.50 L367.20,447.30 L371.80,447.30 Z" fill="#000"/>
<text x="378.1" y="396.35" font-size="13.4" font-weight="bold" fill="#000" text-anchor="middle">D</text>
<line x1="345" y1="451.5" x2="391.5" y2="451.5" stroke="#3a3a3a" stroke-width="1"/>
<line x1="238.8" y1="454.5" x2="334.5" y2="454.5" stroke="#3a3a3a" stroke-width="1"/><path d="M238.80,454.50 L243.00,452.20 L243.00,456.80 Z" fill="#000"/><path d="M334.50,454.50 L330.30,456.80 L330.30,452.20 Z" fill="#000"/>
<text x="288.2" y="467.15" font-size="13.4" font-weight="bold" fill="#000" text-anchor="middle">E</text>
<line x1="142.5" y1="470.5" x2="334.5" y2="470.5" stroke="#3a3a3a" stroke-width="1"/><path d="M142.50,470.50 L146.70,468.20 L146.70,472.80 Z" fill="#000"/><path d="M334.50,470.50 L330.30,472.80 L330.30,468.20 Z" fill="#000"/>
<text x="239.1" y="482.85" font-size="13.4" font-weight="bold" fill="#000" text-anchor="middle">2E</text>
<line x1="120.5" y1="486.5" x2="357" y2="486.5" stroke="#3a3a3a" stroke-width="1"/><path d="M120.50,486.50 L124.70,484.20 L124.70,488.80 Z" fill="#000"/><path d="M357.00,486.50 L352.80,488.80 L352.80,484.20 Z" fill="#000"/>
<text x="238.8" y="498.95" font-size="13.4" font-weight="bold" fill="#000" text-anchor="middle">A</text>
<line x1="120.5" y1="447" x2="120.5" y2="486.5" stroke="#3a3a3a" stroke-width="1"/>
<line x1="142.5" y1="447" x2="142.5" y2="486" stroke="#3a3a3a" stroke-width="1"/>
<line x1="334.5" y1="447" x2="334.5" y2="486" stroke="#3a3a3a" stroke-width="1"/>
<line x1="357" y1="447" x2="357" y2="486.5" stroke="#3a3a3a" stroke-width="1"/>
<line x1="105" y1="440.5" x2="131.5" y2="440.5" stroke="#3a3a3a" stroke-width="1"/>
<line x1="105" y1="451.5" x2="131.5" y2="451.5" stroke="#3a3a3a" stroke-width="1"/>
<line x1="108.5" y1="441" x2="108.5" y2="450.5" stroke="#3a3a3a" stroke-width="0.9"/><path d="M108.50,441.00 L110.80,445.20 L106.20,445.20 Z" fill="#000"/><path d="M108.50,450.50 L106.20,446.30 L110.80,446.30 Z" fill="#000"/>
<text x="99.8" y="449.85" font-size="13.4" font-weight="bold" fill="#000" text-anchor="middle">G</text>
<text x="73.6" y="425.75" font-size="13.4" font-weight="bold" fill="#000" text-anchor="middle">AA</text>
<line x1="504.5" y1="467.5" x2="762.8" y2="467.5" stroke="#3a3a3a" stroke-width="1"/><path d="M504.50,467.50 L508.70,465.20 L508.70,469.80 Z" fill="#000"/><path d="M762.80,467.50 L758.60,469.80 L758.60,465.20 Z" fill="#000"/>
<text x="630.8" y="479.85" font-size="13.4" font-weight="bold" fill="#000" text-anchor="middle">2F1</text>
<line x1="488.5" y1="486.5" x2="762.8" y2="486.5" stroke="#3a3a3a" stroke-width="1"/><path d="M488.50,486.50 L492.70,484.20 L492.70,488.80 Z" fill="#000"/><path d="M762.80,486.50 L758.60,488.80 L758.60,484.20 Z" fill="#000"/>
<text x="631" y="500.25" font-size="13.4" font-weight="bold" fill="#000" text-anchor="middle">2F2</text>
<line x1="764.5" y1="486.5" x2="837" y2="486.5" stroke="#3a3a3a" stroke-width="1"/><path d="M764.50,486.50 L768.70,484.20 L768.70,488.80 Z" fill="#000"/><path d="M837.00,486.50 L832.80,488.80 L832.80,484.20 Z" fill="#000"/>
<text x="803.8" y="499.95" font-size="13.4" font-weight="bold" fill="#000" text-anchor="middle">BA</text>
<line x1="838" y1="486.5" x2="887.5" y2="486.5" stroke="#3a3a3a" stroke-width="1"/><path d="M838.00,486.50 L842.20,484.20 L842.20,488.80 Z" fill="#000"/><path d="M887.50,486.50 L883.30,488.80 L883.30,484.20 Z" fill="#000"/>
<text x="864.9" y="499.95" font-size="13.4" font-weight="bold" fill="#000" text-anchor="middle">N-W</text>
<line x1="476.5" y1="511.5" x2="778" y2="511.5" stroke="#3a3a3a" stroke-width="1"/><path d="M476.50,511.50 L480.70,509.20 L480.70,513.80 Z" fill="#000"/><path d="M778.00,511.50 L773.80,513.80 L773.80,509.20 Z" fill="#000"/>
<text x="627" y="524.75" font-size="13.4" font-weight="bold" fill="#000" text-anchor="middle">B</text>
<line x1="476.5" y1="448.5" x2="476.5" y2="511.5" stroke="#3a3a3a" stroke-width="1"/>
<line x1="488.5" y1="447" x2="488.5" y2="486.5" stroke="#3a3a3a" stroke-width="1"/>
<line x1="504.5" y1="447" x2="504.5" y2="486.5" stroke="#3a3a3a" stroke-width="1"/>
<line x1="763.5" y1="446.5" x2="763.5" y2="486.5" stroke="#3a3a3a" stroke-width="1"/>
<line x1="778" y1="449" x2="778" y2="511.5" stroke="#3a3a3a" stroke-width="1"/>
<line x1="837.5" y1="346" x2="837.5" y2="486.5" stroke="#3a3a3a" stroke-width="1"/>
<line x1="764.6" y1="444.7" x2="783.8" y2="458.6" stroke="#3a3a3a" stroke-width="1"/>
<text x="790.5" y="465.85" font-size="13.4" font-weight="bold" fill="#000" text-anchor="middle">H</text>
<line x1="856" y1="297.5" x2="887.5" y2="297.5" stroke="#3a3a3a" stroke-width="1"/><path d="M856.00,297.50 L860.20,295.20 L860.20,299.80 Z" fill="#000"/><path d="M887.50,297.50 L883.30,299.80 L883.30,295.20 Z" fill="#000"/>
<line x1="855.5" y1="297.5" x2="855.5" y2="318" stroke="#3a3a3a" stroke-width="1"/>
<text x="872.9" y="294.75" font-size="13.4" font-weight="bold" fill="#000" text-anchor="middle">ES</text>
<line x1="852" y1="373.5" x2="887.5" y2="373.5" stroke="#3a3a3a" stroke-width="1"/><path d="M852.00,373.50 L856.20,371.20 L856.20,375.80 Z" fill="#000"/><path d="M887.50,373.50 L883.30,375.80 L883.30,371.20 Z" fill="#000"/>
<line x1="851.5" y1="325" x2="851.5" y2="374" stroke="#3a3a3a" stroke-width="1"/>
<text x="869" y="387.45" font-size="13.4" font-weight="bold" fill="#000" text-anchor="middle">V</text>
<line x1="847" y1="140.5" x2="855.5" y2="140.5" stroke="#3a3a3a" stroke-width="0.8"/><path d="M847.00,140.50 L851.20,138.20 L851.20,142.80 Z" fill="#000"/><path d="M855.50,140.50 L851.30,142.80 L851.30,138.20 Z" fill="#000"/>
<line x1="846.5" y1="138" x2="846.5" y2="150" stroke="#3a3a3a" stroke-width="1"/>
<line x1="855.5" y1="138" x2="855.5" y2="150" stroke="#3a3a3a" stroke-width="1"/>
<text x="850.8" y="136.45" font-size="13.4" font-weight="bold" fill="#000" text-anchor="middle">S</text>
<line x1="819.5" y1="157" x2="819.5" y2="189" stroke="#3a3a3a" stroke-width="1"/><path d="M819.50,157.00 L821.80,161.20 L817.20,161.20 Z" fill="#000"/><path d="M819.50,189.00 L817.20,184.80 L821.80,184.80 Z" fill="#000"/>
<line x1="819.5" y1="157" x2="847" y2="157" stroke="#3a3a3a" stroke-width="1"/>
<line x1="819.5" y1="189" x2="850" y2="189" stroke="#3a3a3a" stroke-width="1"/>
<text x="811.3" y="173.25" font-size="13.4" font-weight="bold" fill="#000" text-anchor="middle">R</text>
<line x1="832" y1="198.5" x2="871" y2="198.5" stroke="#3a3a3a" stroke-width="1"/><path d="M832.00,198.50 L836.20,196.20 L836.20,200.80 Z" fill="#000"/><path d="M871.00,198.50 L866.80,200.80 L866.80,196.20 Z" fill="#000"/>
<line x1="831.5" y1="167" x2="831.5" y2="200" stroke="#3a3a3a" stroke-width="1"/>
<line x1="870.5" y1="167" x2="870.5" y2="200" stroke="#3a3a3a" stroke-width="1"/>
<text x="851" y="210.85" font-size="13.4" font-weight="bold" fill="#000" text-anchor="middle">U</text>
<line x1="238.8" y1="178.5" x2="238.8" y2="457" stroke="#f01010" stroke-width="1.6" stroke-dasharray="3.2,1.4"/>
<line x1="99" y1="335.5" x2="379" y2="335.5" stroke="#f01010" stroke-width="1.6" stroke-dasharray="3.2,1.4"/>
<line x1="138.5" y1="436" x2="138.5" y2="453" stroke="#f01010" stroke-width="1.6" stroke-dasharray="3,1.6"/>
<line x1="146.8" y1="436" x2="146.8" y2="453" stroke="#f01010" stroke-width="1.6" stroke-dasharray="3,1.6"/>
<line x1="330.9" y1="436" x2="330.9" y2="453" stroke="#f01010" stroke-width="1.6" stroke-dasharray="3,1.6"/>
<line x1="339" y1="436" x2="339" y2="453" stroke="#f01010" stroke-width="1.6" stroke-dasharray="3,1.6"/>
<line x1="484.6" y1="434" x2="484.6" y2="452" stroke="#f01010" stroke-width="1.6" stroke-dasharray="3,1.6"/>
<line x1="492.7" y1="434" x2="492.7" y2="452" stroke="#f01010" stroke-width="1.6" stroke-dasharray="3,1.6"/>
<line x1="500.1" y1="434" x2="500.1" y2="452" stroke="#f01010" stroke-width="1.6" stroke-dasharray="3,1.6"/>
<line x1="507.9" y1="434" x2="507.9" y2="452" stroke="#f01010" stroke-width="1.6" stroke-dasharray="3,1.6"/>
<line x1="759.1" y1="434" x2="759.1" y2="452" stroke="#f01010" stroke-width="1.6" stroke-dasharray="3,1.6"/>
<line x1="767.2" y1="434" x2="767.2" y2="452" stroke="#f01010" stroke-width="1.6" stroke-dasharray="3,1.6"/>
<line x1="851" y1="324.5" x2="887" y2="324.5" stroke="#f01010" stroke-width="1.3" stroke-dasharray="3,1.6"/>
</svg>
</body></html>
